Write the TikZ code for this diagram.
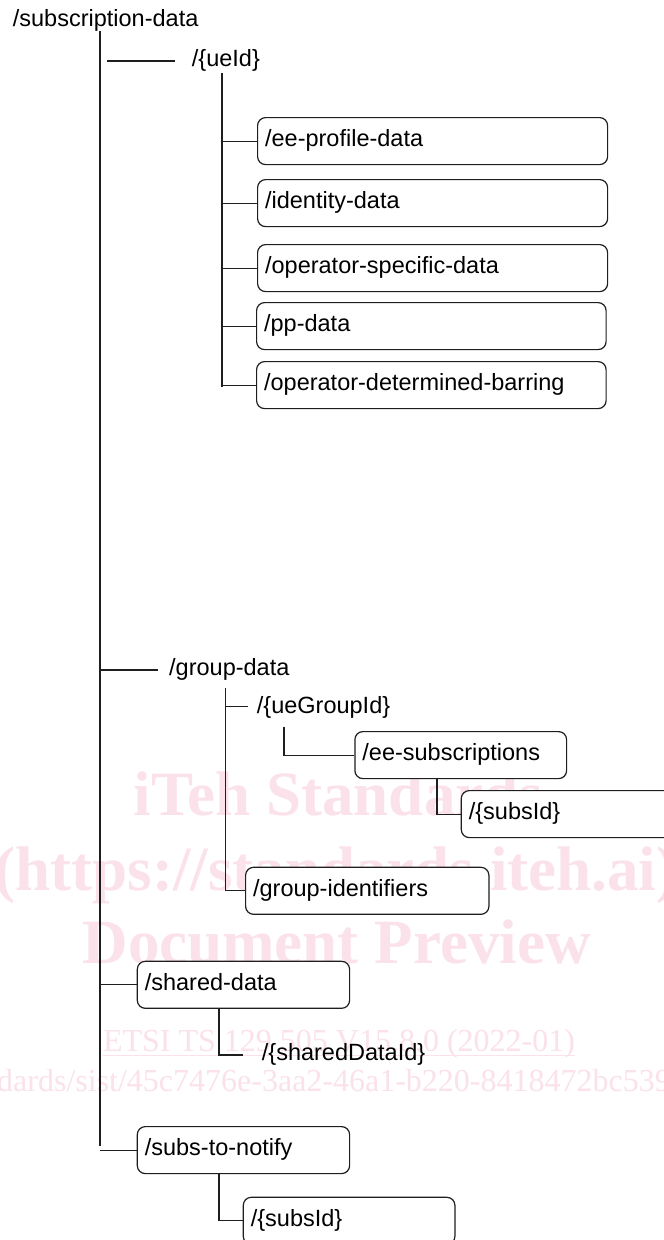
\documentclass[tikz,border=0pt]{standalone}
\usepackage{fontspec}
\setmainfont{Liberation Sans}
\newfontfamily\wmfont{Liberation Serif}
\usetikzlibrary{calc}
\definecolor{linec}{RGB}{30,30,30}
\definecolor{wm}{RGB}{251,226,234}
\newcommand{\lblsize}{\fontsize{23.5}{28}\selectfont}
\begin{document}
\begin{tikzpicture}[x=1pt,y=-1pt,
  conn/.style={draw=linec,line width=1.2pt},
  txt/.style={inner sep=0pt,font=\lblsize,text=black},
  box/.style={draw=linec,line width=1.2pt,rounded corners=8pt,fill=white,
    anchor=north west,minimum height=47pt,inner xsep=7.5pt,inner ysep=0pt,
    align=left,text height=17pt,text depth=6pt,font=\lblsize},
  wmbig/.style={inner sep=0pt,text=wm,font=\wmfont\bfseries\fontsize{63}{70}\selectfont,anchor=base},
  wmsmall/.style={inner sep=0pt,text=wm,font=\wmfont\fontsize{32}{36}\selectfont}
]
\clip (0,0) rectangle (664,1240);
\fill[white] (0,0) rectangle (664,1240);

% watermark
\node[wmbig] (wm1) at (338.5,815.7) {iTeh Standards};
\node[wmbig] (wm2) at (336,890) {(https://standards.iteh.ai)};
\node[wmbig] (wm3) at (336.5,963.5) {Document Preview};
\node[wmsmall,anchor=base] (etsi) at (339,1051.7) {ETSI TS 129 505 V15.8.0 (2022-01)};
\draw[wm,line width=1.5pt] ($(etsi.base west)+(0,4)$) -- ($(etsi.base east)+(0,4)$);
\node[wmsmall,anchor=base west] (wm5) at (-3,1091.7) {dards/sist/45c7476e-3aa2-46a1-b220-8418472bc539};

% coordinates
\coordinate (mainTop) at (100,31);
\coordinate (mainBot) at (100,1146);
\coordinate (ueL) at (107,61);
\coordinate (ueR) at (175,61);
\coordinate (ueV) at (222,73);
\coordinate (ueVB) at (222,387);
\coordinate (gdR) at (157.7,670);
\coordinate (gdV) at (225.3,687.7);
\coordinate (ugR) at (248.3,706.7);
\coordinate (ugV) at (284,726.7);
\coordinate (esV) at (437,777.7);
\coordinate (sdV) at (219,1008.3);
\coordinate (sdR) at (242.7,1055);
\coordinate (snV) at (219,1172.7);

% text nodes
\node[txt,anchor=base west] (root) at (12.7,26.5) {/subscription-data};
\node[txt,anchor=base west] (ueid) at (191.7,66) {/\{ueId\}};
\node[txt,anchor=base west] (gdata) at (169,675.7) {/group-data};
\node[txt,anchor=base west] (uegid) at (256.7,713) {/\{ueGroupId\}};
\node[txt,anchor=base west] (sdid) at (261.7,1060) {/\{sharedDataId\}};

% connectors
\draw[conn] (mainTop) -- (mainBot);
\draw[conn] (ueL) -- (ueR);
\draw[conn] (ueV) -- (ueVB);
\draw[conn] (mainTop |- gdR) -- (gdR);

% boxes
\node[box,text width=335pt] (eeprof) at (257,117) {/ee-profile-data};
\node[box,text width=335pt] (ident) at (257,179) {/identity-data};
\node[box,text width=335pt] (opspec) at (257,244) {/operator-specific-data};
\node[box,text width=334.5pt] (pp) at (256,302) {/pp-data};
\node[box,text width=334.5pt] (odb) at (256,361) {/operator-determined-barring};
\node[box,text width=196.7pt] (eesubs) at (354.3,731) {/ee-subscriptions};
\node[box,text width=197pt] (subsA) at (460.7,790) {/\{subsId\}};
\node[box,text width=228.3pt] (gids) at (245,866.7) {/group-identifiers};
\node[box,text width=197.3pt] (shared) at (136.7,960.7) {/shared-data};
\node[box,text width=197.3pt] (stn) at (136.7,1126) {/subs-to-notify};
\node[box,text width=196.6pt] (subsB) at (242.7,1196.7) {/\{subsId\}};

\foreach \b in {eeprof,ident,opspec,pp,odb}
  \draw[conn] (ueV |- \b.west) -- (\b.west);
\draw[conn] (gdV) |- (gids.west);
\draw[conn] (gdV |- ugR) -- (ugR);
\draw[conn] (ugV) |- (eesubs.west);
\draw[conn] (esV) |- (subsA.west);
\draw[conn] (mainTop |- shared.west) -- (shared.west);
\draw[conn] (sdV) |- (sdR);
\draw[conn] (mainTop |- stn.west) -- (stn.west);
\draw[conn] (snV) |- (subsB.west);
\end{tikzpicture}
\end{document}
